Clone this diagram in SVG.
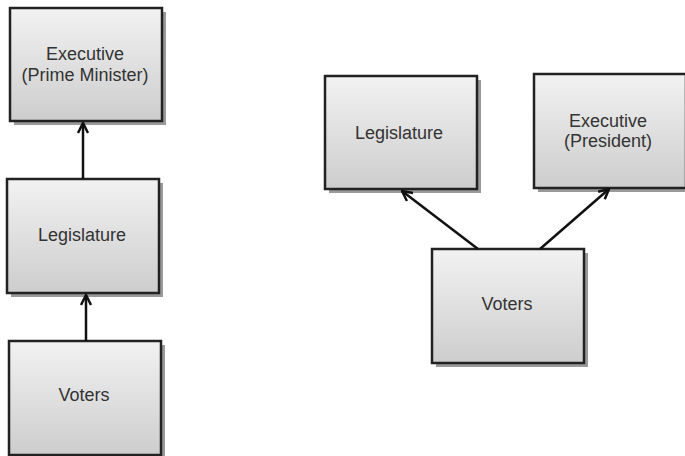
<svg xmlns="http://www.w3.org/2000/svg" width="685" height="456" viewBox="0 0 685 456">
<defs>
<linearGradient id="g" x1="0" y1="0" x2="0" y2="1">
<stop offset="0" stop-color="#f2f2f2"/>
<stop offset="1" stop-color="#cdcdcd"/>
</linearGradient>
<marker id="ah" viewBox="0 0 12 12" refX="11" refY="6" markerWidth="12" markerHeight="12" markerUnits="userSpaceOnUse" orient="auto">
<path d="M1,1 L11,6 L1,11" fill="none" stroke="#111" stroke-width="2.5"/>
</marker>
</defs>
<style>
.sh{fill:#9a9a9a}
.bx{fill:url(#g);stroke:#222;stroke-width:2.5}
.t{font-family:"Liberation Sans",Arial,sans-serif;font-size:18px;fill:#333;text-anchor:middle}
.c{fill:none;stroke:#111;stroke-width:2.5}
</style>
<rect width="685" height="456" fill="#fff"/>
<g id="exec-pm">
<rect class="sh" x="14" y="12" width="152" height="113"/>
<rect class="bx" x="10" y="8" width="152" height="113"/>
<text class="t" x="85" y="60">Executive</text>
<text class="t" x="85" y="81">(Prime Minister)</text>
</g>
<g id="legislature-left">
<rect class="sh" x="11" y="183" width="152" height="114"/>
<rect class="bx" x="7" y="179" width="152" height="114"/>
<text class="t" x="82" y="241">Legislature</text>
</g>
<g id="voters-left">
<rect class="sh" x="13" y="345" width="152" height="114"/>
<rect class="bx" x="9" y="341" width="152" height="114"/>
<text class="t" x="84" y="401">Voters</text>
</g>
<g id="legislature-right">
<rect class="sh" x="329" y="80" width="152" height="113"/>
<rect class="bx" x="325" y="76" width="152" height="113"/>
<text class="t" x="399" y="139">Legislature</text>
</g>
<g id="exec-president">
<rect class="sh" x="538" y="78" width="152" height="114"/>
<rect class="bx" x="534" y="74" width="152" height="114"/>
<text class="t" x="608" y="127">Executive</text>
<text class="t" x="608" y="147">(President)</text>
</g>
<g id="voters-right">
<rect class="sh" x="436" y="253" width="152" height="114"/>
<rect class="bx" x="432" y="249" width="152" height="114"/>
<text class="t" x="507" y="310">Voters</text>
</g>
<g id="connectors">
<line class="c" x1="83" y1="179" x2="83" y2="123" marker-end="url(#ah)"/>
<line class="c" x1="86" y1="341" x2="86" y2="295" marker-end="url(#ah)"/>
<line class="c" x1="478" y1="249" x2="402" y2="191" marker-end="url(#ah)"/>
<line class="c" x1="540" y1="249" x2="609" y2="189" marker-end="url(#ah)"/>
</g>
</svg>
